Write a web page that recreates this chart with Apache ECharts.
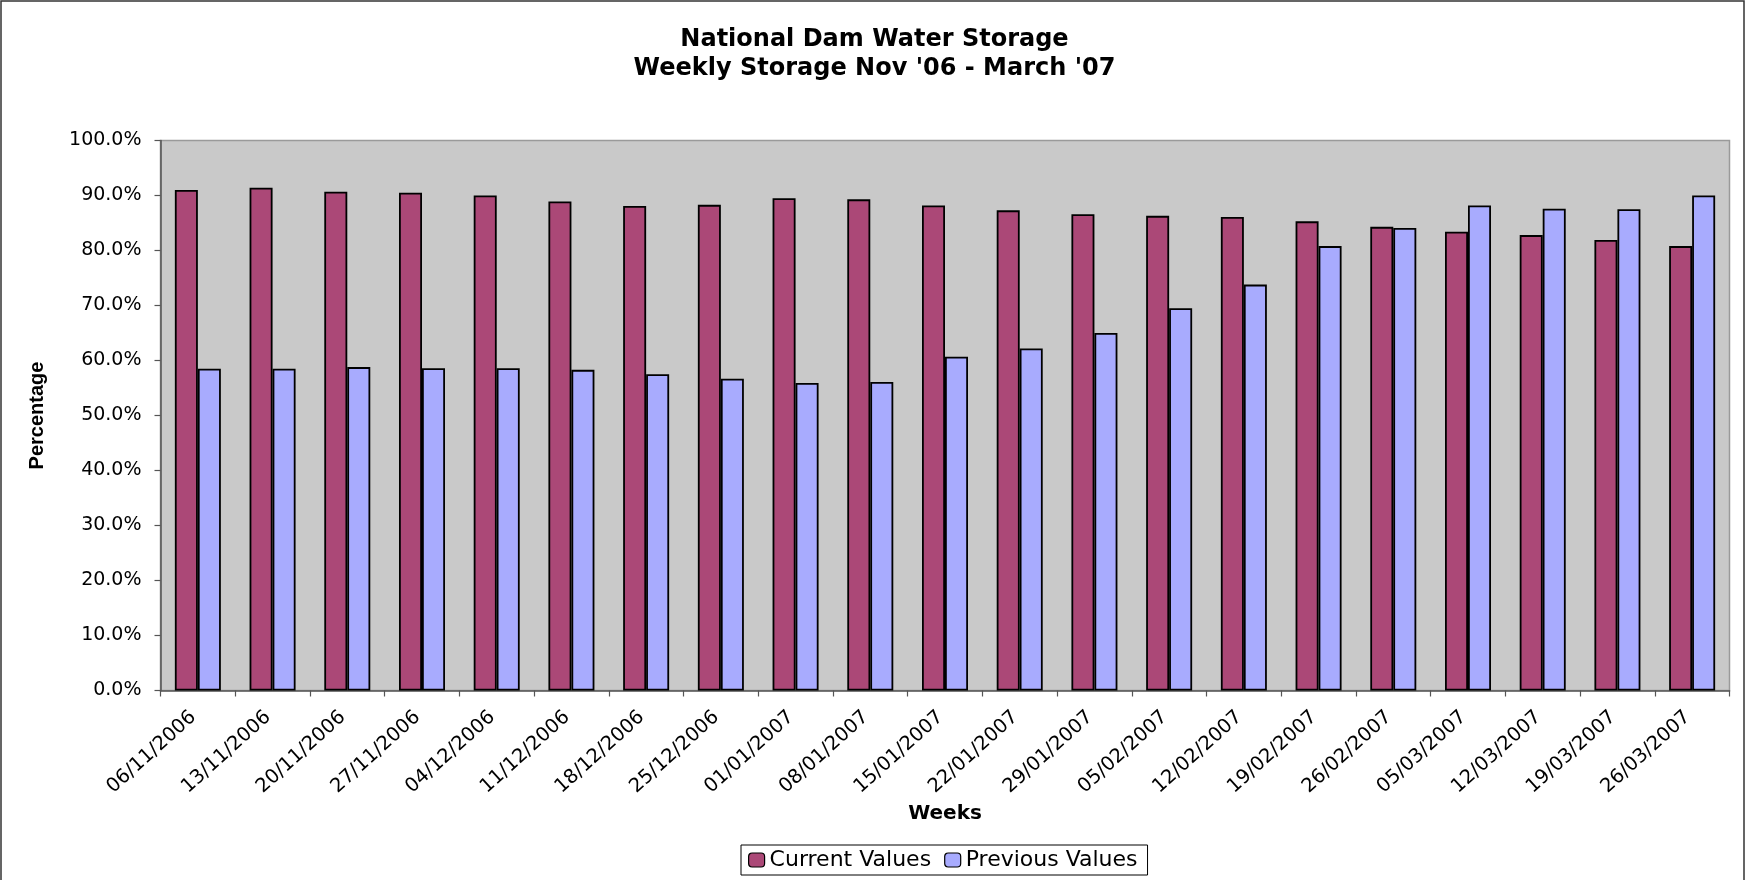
<!DOCTYPE html>
<html>
<head>
<meta charset="utf-8">
<script src="https://cdn.jsdelivr.net/npm/echarts@6/dist/echarts.min.js"></script>
<style>
html, body { margin: 0; padding: 0; background: #ffffff; }
#chart { width: 1749px; height: 880px; }
</style>
</head>
<body>
<div id="chart"></div>
<script>
const categories = ['06/11/2006', '13/11/2006', '20/11/2006', '27/11/2006', '04/12/2006', '11/12/2006', '18/12/2006', '25/12/2006', '01/01/2007', '08/01/2007', '15/01/2007', '22/01/2007', '29/01/2007', '05/02/2007', '12/02/2007', '19/02/2007', '26/02/2007', '05/03/2007', '12/03/2007', '19/03/2007', '26/03/2007'];
const currentValues = [91.0, 91.4, 90.7, 90.5, 90.0, 88.9, 88.1, 88.3, 89.5, 89.3, 88.2, 87.3, 86.6, 86.3, 86.1, 85.3, 84.3, 83.4, 82.8, 81.9, 80.8];
const previousValues = [58.5, 58.5, 58.8, 58.6, 58.6, 58.3, 57.5, 56.7, 55.9, 56.1, 60.7, 62.2, 65.0, 69.5, 73.8, 80.8, 84.1, 88.2, 87.6, 87.5, 90.0];
const yMin = 0, yMax = 100, yStep = 10;

const chart = echarts.init(document.getElementById('chart'), null, { renderer: 'canvas' });
const font = 'DejaVu Sans';
chart.setOption({
  animation: false,
  backgroundColor: '#ffffff',
  graphic: [{
    type: 'rect', silent: true, z: -10,
    shape: { x: 1, y: 1, width: 1743, height: 900 },
    style: { fill: 'none', stroke: '#333333', lineWidth: 1.5 }
  }],
  title: {
    text: "National Dam Water Storage\nWeekly Storage Nov '06 - March '07",
    left: 'center',
    top: 25,
    padding: 0,
    textStyle: { fontFamily: font, fontWeight: 'bold', fontSize: 24, lineHeight: 29, color: '#000000' }
  },
  legend: {
    left: 741,
    top: 845,
    orient: 'horizontal',
    padding: [4, 10, 4, 7],
    itemGap: 13,
    itemWidth: 16,
    itemHeight: 14,
    borderColor: '#000000',
    borderWidth: 1,
    backgroundColor: '#ffffff',
    textStyle: { fontFamily: font, fontSize: 22, color: '#000000' },
    data: [
      { name: 'Current Values', itemStyle: { color: '#AB4877', borderColor: '#000', borderWidth: 1.2 } },
      { name: 'Previous Values', itemStyle: { color: '#A8ABFE', borderColor: '#000', borderWidth: 1.2 } }
    ]
  },
  grid: {
    left: 160.5,
    right: 19.5,
    top: 140.5,
    bottom: 189.5,
    show: true,
    backgroundColor: '#C9C9C9',
    borderColor: '#9a9a9a',
    borderWidth: 1.5,
    containLabel: false
  },
  xAxis: {
    type: 'category',
    data: categories,
    name: 'Weeks',
    nameLocation: 'middle',
    nameGap: 109,
    nameTextStyle: { fontFamily: font, fontWeight: 'bold', fontSize: 20, color: '#000000' },
    axisLine: { show: true, lineStyle: { color: '#555555', width: 1.5 } },
    axisTick: { show: true, length: 6, lineStyle: { color: '#555555', width: 1.2 } },
    axisLabel: {
      rotate: 42,
      margin: 20,
      padding: [0, 6, 0, 0],
      interval: 0,
      fontFamily: font,
      fontSize: 19.5,
      color: '#000000'
    },
    splitLine: { show: false }
  },
  yAxis: {
    type: 'value',
    min: yMin,
    max: yMax,
    interval: yStep,
    name: 'Percentage',
    nameLocation: 'middle',
    nameGap: 113,
    nameTextStyle: { fontFamily: 'Liberation Sans', fontWeight: 'bold', fontSize: 20, color: '#000000' },
    axisLine: { show: true, lineStyle: { color: '#555555', width: 1.5 } },
    axisTick: { show: true, length: 6, lineStyle: { color: '#555555', width: 1.2 } },
    axisLabel: {
      margin: 19,
      fontFamily: font,
      fontSize: 19,
      color: '#000000',
      formatter: v => v.toFixed(1) + '%'
    },
    splitLine: { show: false }
  },
  series: [
    {
      name: 'Current Values',
      type: 'bar',
      data: currentValues,
      barWidth: 23,
      barGap: '0%',
      itemStyle: { color: '#AB4877', borderColor: '#000000', borderWidth: 1.8 }
    },
    {
      name: 'Previous Values',
      type: 'bar',
      data: previousValues,
      barWidth: 23,
      barGap: '0%',
      itemStyle: { color: '#A8ABFE', borderColor: '#000000', borderWidth: 1.8 }
    }
  ]
});
</script>
</body>
</html>
